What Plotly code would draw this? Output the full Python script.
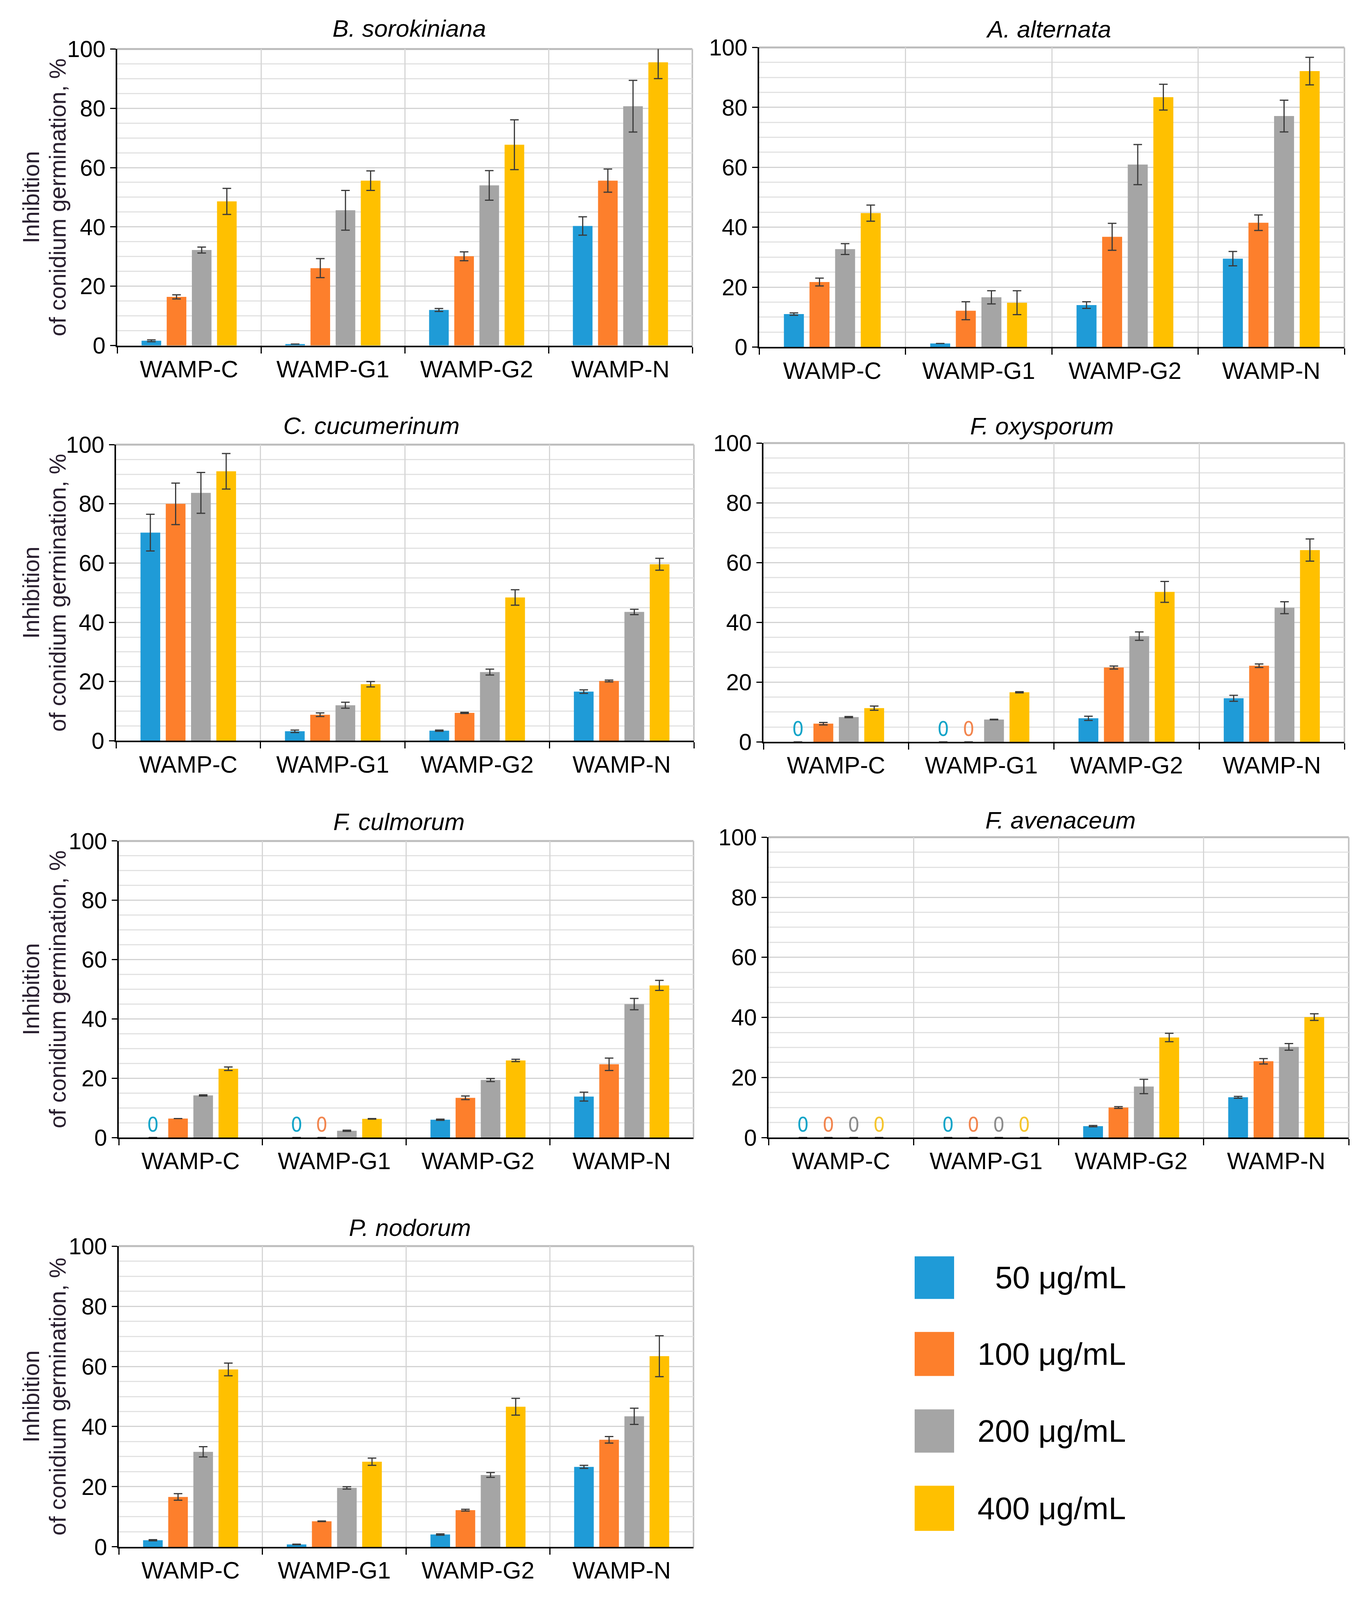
import plotly.graph_objects as go

W, H = 3486, 4214

categories = ["WAMP-C", "WAMP-G1", "WAMP-G2", "WAMP-N"]
series_names = ["50 μg/mL", "100 μg/mL", "200 μg/mL", "400 μg/mL"]
bar_colors = ["#1f9bd7", "#fd7f2c", "#a5a5a5", "#ffc000"]
zero_colors = ["#12a4c8", "#f2854e", "#8c8c8c", "#f5c52e"]
y_ticks = [0, 20, 40, 60, 80, 100]
y_title_1 = "Inhibition"
y_title_2 = "of conidium germination, %"

# rows: 50, 100, 200, 400 µg/mL ; columns: categories
b_sorokiniana = [[1.6, 0.5, 12.0, 40.3], [16.4, 26.1, 30.1, 55.6],
                 [32.2, 45.6, 54.0, 80.7], [48.6, 55.6, 67.7, 95.5]]
b_sorokiniana_err = [[0.3, None, 0.5, 3.1], [0.7, 3.2, 1.5, 3.9],
                     [1.0, 6.7, 5.0, 8.7], [4.4, 3.3, 8.4, 5.5]]

a_alternata = [[11.0, 1.2, 14.0, 29.5], [21.7, 12.1, 36.8, 41.5],
               [32.7, 16.6, 60.9, 77.1], [44.7, 14.8, 83.4, 92.1]]
a_alternata_err = [[0.4, None, 1.1, 2.4], [1.3, 3.0, 4.5, 2.6],
                   [1.8, 2.2, 6.7, 5.3], [2.7, 4.0, 4.3, 4.6]]

c_cucumerinum = [[70.3, 3.2, 3.4, 16.6], [80.0, 8.8, 9.4, 20.2],
                 [83.7, 12.0, 23.2, 43.5], [91.0, 19.1, 48.4, 59.6]]
c_cucumerinum_err = [[6.2, 0.4, 0.2, 0.6], [7.0, 0.6, 0.2, 0.3],
                     [6.9, 1.0, 1.0, 0.9], [6.0, 0.9, 2.6, 2.0]]

f_oxysporum = [[0, 0, 7.9, 14.6], [6.1, 0, 24.9, 25.5],
               [8.3, 7.5, 35.4, 44.9], [11.3, 16.6, 50.2, 64.2]]
f_oxysporum_err = [[None, None, 0.7, 1.0], [0.4, None, 0.5, 0.6],
                   [0.2, 0.1, 1.4, 2.0], [0.7, 0.2, 3.5, 3.7]]

f_culmorum = [[0, 0, 6.0, 13.8], [6.4, 0, 13.4, 24.7],
              [14.2, 2.3, 19.4, 45.0], [23.2, 6.3, 26.0, 51.3]]
f_culmorum_err = [[None, None, 0.2, 1.5], [None, None, 0.6, 2.1],
                  [0.2, 0.2, 0.5, 1.9], [0.6, 0.1, 0.4, 1.7]]

f_avenaceum = [[0, 0, 3.8, 13.4], [0, 0, 10.0, 25.4],
               [0, 0, 17.0, 30.2], [0, 0, 33.3, 40.1]]
f_avenaceum_err = [[None, None, 0.2, 0.3], [None, None, 0.3, 0.9],
                   [None, None, 2.4, 1.1], [None, None, 1.4, 1.1]]

p_nodorum = [[2.2, 0.8, 4.1, 26.6], [16.6, 8.5, 12.2, 35.6],
             [31.6, 19.6, 23.9, 43.4], [59.0, 28.3, 46.6, 63.4]]
p_nodorum_err = [[0.2, 0.1, 0.2, 0.5], [1.1, 0.1, 0.3, 1.1],
                 [1.7, 0.4, 0.8, 2.7], [2.1, 1.2, 2.8, 6.8]]

panels = [
    ("B. sorokiniana", b_sorokiniana, b_sorokiniana_err),
    ("A. alternata", a_alternata, a_alternata_err),
    ("C. cucumerinum", c_cucumerinum, c_cucumerinum_err),
    ("F. oxysporum", f_oxysporum, f_oxysporum_err),
    ("F. culmorum", f_culmorum, f_culmorum_err),
    ("F. avenaceum", f_avenaceum, f_avenaceum_err),
    ("P. nodorum", p_nodorum, p_nodorum_err),
]

# plot-area boxes in pixels (x0, x1, ytop, ybottom), title centre (x, y)
boxes = [
    (300, 1772, 129, 910), (1943, 3441, 125, 914),
    (297, 1776, 1171, 1951), (1954, 3441, 1167, 1954),
    (304, 1775, 2215, 2996), (1967, 3452, 2205, 2996),
    (304, 1775, 3282, 4074),
]
title_pos = [(1047, 75), (2683, 77), (950, 1121), (2667, 1122),
             (1021, 2164), (2714, 2160), (1049, 3233)]

FONT = "Liberation Sans, Arial, sans-serif"

fig = go.Figure()
layout = dict(
    autosize=True,
    margin=dict(l=0, r=0, t=0, b=0, pad=0, autoexpand=False),
    paper_bgcolor="white", plot_bgcolor="white",
    showlegend=False, barmode="group", bargap=0.3, bargroupgap=0.22,
    font=dict(family=FONT, color="black"),
)
annotations = []
shapes = []

for i, (name, vals, errs) in enumerate(panels):
    k = "" if i == 0 else str(i + 1)
    xa, ya = "x" + k, "y" + k
    x0, x1, yt, yb = boxes[i]
    for s in range(4):
        texts = ["0" if v == 0 else "" for v in vals[s]]
        fig.add_trace(go.Bar(
            x=categories, y=vals[s], name=series_names[s],
            marker=dict(color=bar_colors[s], line=dict(width=0)),
            error_y=dict(type="data", array=errs[s], visible=True,
                         color="#3a3a3a", thickness=3, width=11),
            text=texts, textposition="outside",
            textfont=dict(family="Liberation Sans Narrow, DejaVu Sans Condensed, sans-serif",
                          size=52, color=zero_colors[s]),
            cliponaxis=False, xaxis=xa, yaxis=ya, hoverinfo="skip",
        ))
    layout["xaxis" + k] = dict(
        domain=[x0 / W, x1 / W], anchor=ya, type="category", automargin=False,
        categoryorder="array", categoryarray=categories,
        tickson="boundaries", ticks="outside", ticklen=16, tickwidth=3,
        tickcolor="black", showline=True, linecolor="black", linewidth=4,
        showgrid=True, gridcolor="#d6d6d6", gridwidth=3,
        tickfont=dict(size=61, family=FONT, color="black"),
        ticklabelstandoff=4,
    )
    layout["yaxis" + k] = dict(
        domain=[1 - yb / H, 1 - yt / H], anchor=xa, range=[0, 100], automargin=False,
        tickvals=y_ticks, ticks="outside", ticklen=14, tickwidth=3,
        tickcolor="black", showline=True, linecolor="black", linewidth=4,
        showgrid=True, gridcolor="#d3d3d3", gridwidth=3,
        minor=dict(dtick=5, showgrid=True, gridcolor="#e2e2e2", gridwidth=3),
        tickfont=dict(size=59, family=FONT, color="black"),
        zeroline=False,
    )
    # gray frame (top + right)
    shapes.append(dict(type="line", xref=xa + " domain", yref=ya + " domain",
                       x0=0, x1=1, y0=1, y1=1,
                       line=dict(color="#bdbdbd", width=5), layer="below"))
    shapes.append(dict(type="line", xref=xa + " domain", yref=ya + " domain",
                       x0=1, x1=1, y0=0, y1=1,
                       line=dict(color="#c4c4c4", width=4), layer="below"))
    tx, ty = title_pos[i]
    annotations.append(dict(text=name, x=tx / W, y=1 - ty / H, xref="paper", yref="paper",
                            xanchor="center", yanchor="middle", showarrow=False,
                            font=dict(family=FONT, size=62, color="black", style="italic")))
    if i % 2 == 0:
        yc = 1 - (yt + yb) / 2 / H
        annotations.append(dict(text=y_title_1, x=80 / W, y=yc, xref="paper", yref="paper",
                                xanchor="center", yanchor="middle", textangle=-90,
                                showarrow=False, font=dict(family=FONT, size=59, color="#2a2030")))
        annotations.append(dict(text=y_title_2, x=148 / W, y=yc, xref="paper", yref="paper",
                                xanchor="center", yanchor="middle", textangle=-90,
                                showarrow=False, font=dict(family=FONT, size=59, color="#2a2030")))

# legend (boxes + labels)
legend_boxes = [(3309, 3421), (3508, 3624), (3712, 3826), (3913, 4032)]
for s, (b0, b1) in enumerate(legend_boxes):
    shapes.append(dict(type="rect", xref="paper", yref="paper",
                       x0=2341 / W, x1=2442 / W, y0=1 - b1 / H, y1=1 - b0 / H,
                       fillcolor=bar_colors[s], line=dict(width=0)))
    annotations.append(dict(text=series_names[s], x=2884 / W, y=1 - (b0 + b1) / 2 / H,
                            xref="paper", yref="paper", xanchor="right", yanchor="middle",
                            showarrow=False, font=dict(family=FONT, size=80, color="black")))

layout["annotations"] = annotations
layout["shapes"] = shapes
fig.update_layout(**layout)
fig.write_html(
    "out.html",
    config={"displayModeBar": False, "responsive": True},
    default_width="100vw",
    default_height="100vh",
    post_script="document.body.style.margin='0';document.body.style.overflow='hidden';",
)
